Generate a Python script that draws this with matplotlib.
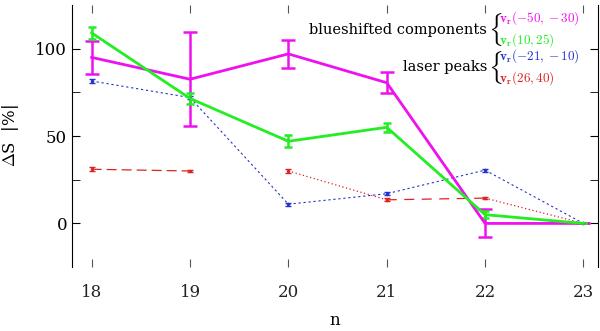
import matplotlib
matplotlib.use("Agg")
import matplotlib.pyplot as plt
import numpy as np

plt.rcParams['font.family'] = ['DejaVu Serif']
plt.rcParams['mathtext.fontset'] = 'cm'

n = [18, 19, 20, 21, 22, 23]
mag = [95, 82.5, 97, 80.5, 0, 0]
mag_err = [9.5, 27, 8, 6, 8, 0]
grn = [109, 71.5, 47, 55, 5, 0]
grn_err = [3.5, 3, 3.5, 2.5, 2, 0]
blu = [81.5, 72, 11, 17, 30.5, 0]
blu_err = [1.2, 0.8, 0.8, 1.0, 0.8, 0]
red = [31, 30, 30, 13.5, 14.5, 0]
red_err = [1.2, 0.8, 1.2, 0.8, 0.8, 0]
red_seg_styles = [(0, (8, 4)), None, (0, (1, 2)), (0, (8, 6)), (0, (1, 2))]

fig = plt.figure(figsize=(6, 3.31), dpi=100)
ax = fig.add_axes([0.12, 0.193, 0.877, 0.792])

col_m = '#ee11ee'
col_g = '#22ee22'
col_b = '#2233cc'
col_r = '#dd2222'

for i, ls in enumerate(red_seg_styles):
    if ls is None:
        continue
    ax.plot(n[i:i+2], red[i:i+2], color=col_r, lw=0.9, linestyle=ls)
ax.errorbar(n, red, yerr=red_err, fmt='o', ms=1.5, color=col_r, capsize=2, elinewidth=0.8)
ax.errorbar(n, blu, yerr=blu_err, fmt='o', ms=1.5, color=col_b, capsize=2, elinewidth=0.8,
            linestyle=(0, (2, 2.5)), lw=0.8)
ax.errorbar(n, mag, yerr=mag_err, color=col_m, lw=2.0, capsize=5, elinewidth=1.8, capthick=1.8)
ax.errorbar(n, grn, yerr=grn_err, color=col_g, lw=2.0, capsize=3, elinewidth=1.8, capthick=1.8)

ax.set_xlim(17.8, 23.15)
ax.set_ylim(-25, 125)
ax.set_xticks(n)
ax.set_yticks([0, 50, 100])
ax.set_yticks([25, 75], minor=True)
ax.spines['top'].set_visible(False)
ax.spines['bottom'].set_visible(False)
ax.tick_params(axis='both', direction='in', labelsize=12, length=6, width=0.8, top=True, right=True)
ax.tick_params(axis='x', pad=12, colors='#555555', labelcolor='#222222')
ax.tick_params(axis='y', which='minor', direction='in', length=6, right=True)
ax.set_xlabel('n', fontsize=12, labelpad=8)
ax.set_ylabel(r'$\Delta$S  |%|', fontsize=12, labelpad=10)

fs = 10.5
vfs = 9.5
tx = 0.789
bx = 0.790
vx = 0.812
ax.text(tx, 0.905, 'blueshifted components', transform=ax.transAxes, ha='right', va='center', fontsize=fs)
ax.text(bx, 0.905, r'$\{$', transform=ax.transAxes, ha='left', va='center', fontsize=19)
ax.text(vx, 0.948, r'$\mathbf{v_r}(-50,-30)$', transform=ax.transAxes, ha='left', va='center', fontsize=vfs, color=col_m)
ax.text(vx, 0.865, r'$\mathbf{v_r}(10,25)$', transform=ax.transAxes, ha='left', va='center', fontsize=vfs, color=col_g)
ax.text(tx, 0.762, 'laser peaks', transform=ax.transAxes, ha='right', va='center', fontsize=fs)
ax.text(bx, 0.762, r'$\{$', transform=ax.transAxes, ha='left', va='center', fontsize=19)
ax.text(vx, 0.803, r'$\mathbf{v_r}(-21,-10)$', transform=ax.transAxes, ha='left', va='center', fontsize=vfs, color=col_b)
ax.text(vx, 0.720, r'$\mathbf{v_r}(26,40)$', transform=ax.transAxes, ha='left', va='center', fontsize=vfs, color=col_r)

fig.savefig('out.png', dpi=100)
